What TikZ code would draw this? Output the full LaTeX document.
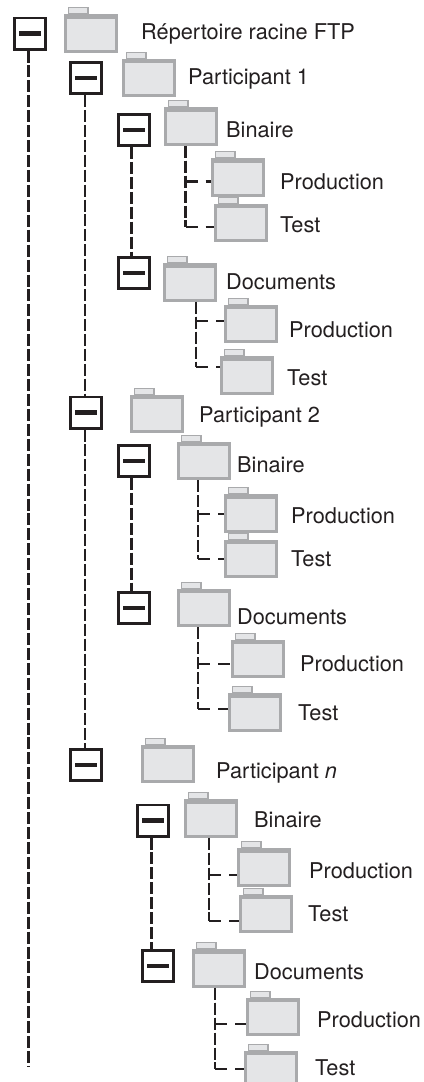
\documentclass[tikz,border=0pt]{standalone}
\usepackage{fontspec}
\setmainfont{TeX Gyre Heros}
\definecolor{ink}{HTML}{231F20}
\definecolor{folderedge}{HTML}{A9AAAC}
\definecolor{folderfill}{HTML}{E4E5E7}
\tikzset{
  minusbox/.style={draw=ink,fill=white,line width=2pt,inner sep=0pt,minimum size=23.5pt},
  folderbody/.style={draw=folderedge,fill=folderfill,line width=2.2pt,inner sep=0pt,minimum width=38.3pt,minimum height=26.7pt},
  foldertab/.style={draw=folderedge,fill=folderfill,line width=0.9pt,inner sep=0pt,minimum width=14.5pt,minimum height=4.4pt},
  caption/.style={anchor=west,inner sep=0pt,xshift=-0.8pt,yshift=-0.8pt,text=ink,font=\fontsize{16.3}{18}\selectfont},
  trunkline/.style={ink,line width=1.9pt,dash pattern=on 9pt off 2.2pt},
  stubline/.style={ink,line width=1.9pt,dash pattern=on 9pt off 6pt on 9pt off 3pt},
}
% box with a minus sign: name, x, y
\newcommand{\minusnode}[3]{
  \node[minusbox] (#1) at (#2,#3) {};
  \draw[ink,line width=3.7pt] (#1.center) +(-11,0) -- +(11,0);
}
% folder with its text: name, x, y, text, text x, text y
\newcommand{\foldernode}[6]{
  \node[folderbody] (#1) at (#2,#3) {};
  \node[foldertab,anchor=south west] (#1tab) at ([xshift=3pt]#1.north west) {};
  \draw[folderedge,line width=3.4pt] ([yshift=-1.7pt]#1.north west) -- ([yshift=-1.7pt]#1.north east);
  \node[caption] (#1text) at (#5,#6) {#4};
}
% parent folder, child folder, where the line leaves the parent, where it meets the child
\newcommand{\branchline}[4]{
  \coordinate (#1drop) at ([shift={(#3,0)}]#1.south);
  \coordinate (#2side) at ([shift={(0,#4)}]#2.west);
  \coordinate (#2elbow) at (#1drop |- #2side);
  \draw[trunkline] (#1drop) -- (#2elbow);
  \draw[stubline] (#2elbow) -- (#2side);
}
\begin{document}
\begin{tikzpicture}[x=0.75pt,y=-0.75pt]
  \useasboundingbox (0,0) rectangle (424,1082);
  % root
  \minusnode{rootbox}{30}{33.5}
  \foldernode{root}{91}{33.5}{Répertoire racine FTP}{142}{33}
  % participant 1
  \minusnode{ponebox}{86}{78}
  \foldernode{pone}{149}{78}{Participant 1}{189}{78}
  \minusnode{ponebinbox}{134}{130}
  \foldernode{ponebin}{191}{126.5}{Binaire}{227}{129}
  \foldernode{ponebinprod}{238}{177.5}{Production}{281}{181}
  \foldernode{ponebintest}{241}{223}{Test}{281}{224}
  \minusnode{ponedocbox}{134}{273}
  \foldernode{ponedoc}{190}{282.5}{Documents}{227}{281}
  \foldernode{ponedocprod}{251}{324}{Production}{290}{329}
  \foldernode{ponedoctest}{247}{375.5}{Test}{288}{377}
  % participant 2
  \minusnode{ptwobox}{86}{412.5}
  \foldernode{ptwo}{157}{414}{Participant 2}{200}{416}
  \minusnode{ptwobinbox}{134}{461}
  \foldernode{ptwobin}{204}{461}{Binaire}{238}{464}
  \foldernode{ptwobinprod}{251}{513.5}{Production}{292}{515}
  \foldernode{ptwobintest}{251}{559}{Test}{292}{558}
  \minusnode{ptwodocbox}{134}{608}
  \foldernode{ptwodoc}{204}{608}{Documents}{238}{616}
  \foldernode{ptwodocprod}{258}{659}{Production}{301}{663}
  \foldernode{ptwodoctest}{255}{712.5}{Test}{299}{712}
  % participant n
  \minusnode{pnbox}{86}{765}
  \foldernode{pn}{168}{764}{Participant \textit{n}}{217}{772}
  \minusnode{pnbinbox}{153}{820.5}
  \foldernode{pnbin}{211}{818.5}{Binaire}{255}{819}
  \foldernode{pnbinprod}{264}{867.5}{Production}{310}{870}
  \foldernode{pnbintest}{266}{914}{Test}{309}{913}
  \minusnode{pndocbox}{158}{966}
  \foldernode{pndoc}{219}{968.5}{Documents}{255}{971}
  \foldernode{pndocprod}{273}{1017}{Production}{318}{1019}
  \foldernode{pndoctest}{271}{1070}{Test}{316}{1067}
  % long lines
  \coordinate (rootend) at (28.7,1067);
  \coordinate (ponestart) at ([xshift=-0.7pt]ponebox.south);
  \coordinate (ptwostart) at ([xshift=-0.7pt]ptwobox.south);
  \coordinate (ponebinstart) at ([xshift=-1.7pt]ponebinbox.south);
  \coordinate (ptwobinstart) at ([xshift=-1.7pt]ptwobinbox.south);
  \coordinate (pnbinstart) at ([xshift=-1pt]pnbinbox.south);
  \draw[trunkline] (rootend |- rootbox.south) -- (rootend);
  \draw[trunkline] (ponestart) -- (ponestart |- ptwobox.north);
  \draw[trunkline] (ptwostart) -- (ptwostart |- pnbox.north);
  \draw[trunkline] (ponebinstart) -- (ponebinstart |- ponedocbox.north);
  \draw[trunkline] (ptwobinstart) -- (ptwobinstart |- ptwodocbox.north);
  \draw[trunkline] (pnbinstart) -- (pnbinstart |- pndocbox.north);
  % side branches
  \branchline{ponebin}{ponebinprod}{-5.3}{4}
  \branchline{ponebin}{ponebintest}{-5.3}{4}
  \branchline{ponedoc}{ponedocprod}{6}{-3}
  \branchline{ponedoc}{ponedoctest}{6}{-8.5}
  \branchline{ptwobin}{ptwobinprod}{-6}{0.5}
  \branchline{ptwobin}{ptwobintest}{-6}{0}
  \branchline{ptwodoc}{ptwodocprod}{-6}{5}
  \branchline{ptwodoc}{ptwodoctest}{-6}{-3.5}
  \branchline{pnbin}{pnbinprod}{-2}{7.5}
  \branchline{pnbin}{pnbintest}{-2}{7}
  \branchline{pndoc}{pndocprod}{-4}{7}
  \branchline{pndoc}{pndoctest}{-4}{-1}
\end{tikzpicture}
\end{document}
